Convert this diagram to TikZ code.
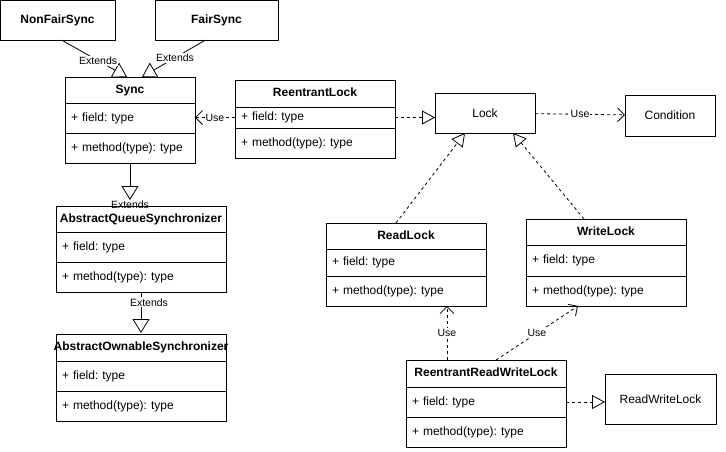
\documentclass[tikz,border=0pt]{standalone}
\usepackage{fontspec}
\setmainfont{Liberation Sans}
\frenchspacing
\usetikzlibrary{positioning, arrows.meta}

\begin{document}
\begin{tikzpicture}[
  x=1pt, y=-1pt,
  font=\fontsize{12}{14}\selectfont,
  line width=0.8pt,
  box/.style    ={rectangle, draw, minimum height=40pt, inner sep=0pt, outer sep=0pt},
  head/.style   ={rectangle, draw, font=\fontsize{12}{14}\selectfont\bfseries,
                  minimum width=#1, minimum height=26pt, inner sep=0pt, outer sep=0pt,
                  text height=9pt, text depth=3pt},
  row/.style    ={rectangle, draw, text width=#1, align=left,
                  minimum height=30pt, inner xsep=6pt, inner ysep=0pt, outer sep=0pt,
                  text height=9pt, text depth=3pt},
  lbl/.style    ={font=\fontsize{10.5}{12}\selectfont, fill=white, inner sep=1pt},
  extends/.style={-{Triangle[open, length=14pt, width=17pt]}},
  realize/.style={-{Triangle[open, length=13pt, width=14pt]}, dash pattern=on 3pt off 3pt},
  use/.style    ={-{Straight Barb[length=7pt, width=14pt]}, dash pattern=on 3pt off 3pt}
]
\useasboundingbox (0,0) rectangle (726,451);

% ---------- Sync hierarchy ----------
\node[box, minimum width=115pt] (nfs) at (57.5,20)  {\textbf{NonFairSync}};
\node[box, minimum width=123pt] (fs)  at (216.5,20) {\textbf{FairSync}};

\node[head=130pt] (sync) at (130,90) {Sync};
\node[row=118pt, below=0pt of sync]   (sync-f) {+ field: type};
\node[row=118pt, below=0pt of sync-f] (sync-m) {+ method(type): type};

\node[head=170pt] (aqs) at (141,219) {AbstractQueueSynchronizer};
\node[row=158pt, below=0pt of aqs]   (aqs-f) {+ field: type};
\node[row=158pt, below=0pt of aqs-f] (aqs-m) {+ method(type): type};

\node[head=170pt, minimum height=27pt] (aos) at (141,347.5)
     {\makebox[0pt]{AbstractOwnableSynchronizer}};
\node[row=158pt, below=0pt of aos]   (aos-f) {+ field: type};
\node[row=158pt, below=0pt of aos-f] (aos-m) {+ method(type): type};

% ---------- Locks ----------
\node[head=160pt, minimum height=27pt] (rlock) at (315,93.5) {ReentrantLock};
\node[row=148pt, minimum height=21pt, below=0pt of rlock] (rlock-f) {+ field: type};
\node[row=148pt, below=0pt of rlock-f] (rlock-m) {+ method(type): type};

\node[box, minimum width=100pt]                      (lock) at (485,113)   {Lock};
\node[box, minimum width=90pt, minimum height=41pt]  (cond) at (670,115.5) {Condition};

\node[head=160pt] (rl) at (406,236) {ReadLock};
\node[row=148pt, minimum height=27pt, below=0pt of rl] (rl-f) {+ field: type};
\node[row=148pt, below=0pt of rl-f] (rl-m) {+ method(type): type};

\node[head=160pt] (wl) at (606,232) {WriteLock};
\node[row=148pt, minimum height=31pt, below=0pt of wl] (wl-f) {+ field: type};
\node[row=148pt, below=0pt of wl-f] (wl-m) {+ method(type): type};

\node[head=160pt, minimum height=27pt] (rrwl) at (486,373.5) {ReentrantReadWriteLock};
\node[row=148pt, below=0pt of rrwl]   (rrwl-f) {+ field: type};
\node[row=148pt, below=0pt of rrwl-f] (rrwl-m) {+ method(type): type};

\node[box, minimum width=111pt, minimum height=50pt] (rwl) at (660.5,399) {ReadWriteLock};

% ---------- Arrows ----------
\draw[extends] ([xshift=4pt]nfs.south) -- ([xshift=-3pt]sync.north)
      node[lbl, pos=0.56] {Extends};
\draw[extends] ([xshift=-11pt]fs.south) -- ([xshift=12pt]sync.north)
      node[lbl, pos=0.48] {Extends};
\draw[extends] (sync-m.south) -- ([yshift=6pt]sync-m.south |- aqs.north)
      node[lbl, fill=none, pos=1, anchor=north, inner sep=0pt] {Extends};
\draw[extends] (aqs-m.south) -- ([yshift=1pt]aqs-m.south |- aos.north)
      node[lbl, pos=0.25, xshift=8pt] {Extends};

\draw[use]     (rlock-f.west) -- (rlock-f.west -| sync-f.east) node[lbl, midway] {Use};
\draw[realize] (rlock-f.east) -- (rlock-f.east -| lock.west);
\draw[use]     (lock) -- (cond) node[lbl, midway] {Use};

\draw[realize] ([xshift=-10pt]rl.north) -- ([xshift=-20pt]lock.south);
\draw[realize] ([xshift=-22pt]wl.north) -- ([xshift=28pt]lock.south);

\draw[use] ([xshift=-39pt]rrwl.north) -- ([xshift=-39pt]rrwl.north |- rl-m.south)
      node[lbl, midway] {Use};
\draw[use] ([xshift=10pt]rrwl.north) -- ([xshift=-28pt]wl-m.south)
      node[lbl, midway] {Use};
\draw[realize] (rrwl-f.east) -- (rrwl-f.east -| rwl.west);

\end{tikzpicture}
\end{document}
